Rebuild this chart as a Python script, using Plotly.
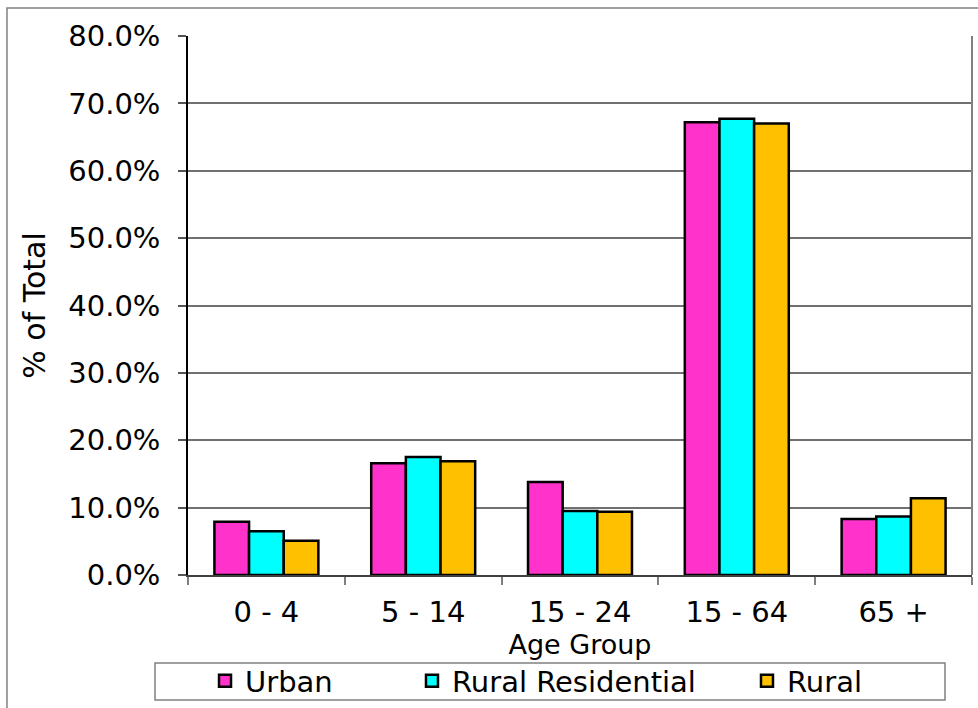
import plotly.graph_objects as go

age_groups = ["0 - 4", "5 - 14", "15 - 24", "15 - 64", "65 +"]
urban = [0.079, 0.166, 0.138, 0.672, 0.083]
rural_residential = [0.065, 0.175, 0.095, 0.677, 0.087]
rural = [0.051, 0.169, 0.094, 0.670, 0.114]

series = [
    ("Urban", urban, "#FF33CC"),
    ("Rural Residential", rural_residential, "#00FFFF"),
    ("Rural", rural, "#FFC000"),
]

FONT = "DejaVu Sans, Verdana, sans-serif"

fig = go.Figure()
legend_ids = ["legend", "legend2", "legend3"]
for (name, vals, color), lg in zip(series, legend_ids):
    fig.add_trace(go.Bar(
        x=age_groups, y=vals, name=name, legend=lg, showlegend=True,
        marker=dict(color=color, line=dict(color="black", width=2.5)),
    ))

legend_common = dict(
    orientation="h", yanchor="middle", y=-0.1967, xanchor="left",
    font=dict(family=FONT, size=29, color="black"),
    bgcolor="rgba(0,0,0,0)", borderwidth=0, visible=True,
)

fig.update_layout(
    width=978, height=708,
    margin=dict(l=188, r=6, t=36, b=133, autoexpand=False),
    paper_bgcolor="white", plot_bgcolor="white",
    showlegend=True,
    barmode="group", bargap=0.337, bargroupgap=0,
    font=dict(family=FONT, color="black"),
    legend=dict(x=0.0217, **legend_common),
    legend2=dict(x=0.2857, **legend_common),
    legend3=dict(x=0.713, **legend_common),
    xaxis=dict(
        title=dict(text="Age Group", font=dict(size=27), standoff=0),
        tickfont=dict(size=29),
        ticklabelstandoff=10,
        automargin=False,
        showline=True, linecolor="#404040", linewidth=1.5,
        ticks="outside", tickson="boundaries", ticklen=8,
        tickcolor="#808080", tickwidth=1.5,
        showgrid=False,
    ),
    yaxis=dict(
        title=dict(text="% of Total", font=dict(size=30), standoff=14),
        tickfont=dict(size=29),
        ticklabelstandoff=12,
        automargin=False,
        range=[0, 0.8], dtick=0.1, tickformat=".1%",
        showline=True, linecolor="black", linewidth=1.5,
        ticks="outside", ticklen=8, tickcolor="#555555", tickwidth=1.5,
        showgrid=True, gridcolor="#707070", gridwidth=1.5,
        zeroline=False,
    ),
    shapes=[
        # right edge of plot area
        dict(type="line", xref="paper", yref="paper", x0=1, x1=1, y0=0, y1=1,
             line=dict(color="#808080", width=2)),
        # outer chart frame
        dict(type="rect", xref="paper", yref="paper",
             x0=-0.2309, x1=1.02, y0=-0.35, y1=1.0519,
             line=dict(color="#808080", width=1.5)),
        # legend box
        dict(type="rect", xref="paper", yref="paper",
             x0=(155 - 188) / 784, x1=(945 - 188) / 784,
             y0=(575 - 700) / 539, y1=(575 - 663) / 539,
             line=dict(color="#808080", width=1.5)),
    ],
)

fig.write_html("out.html")
